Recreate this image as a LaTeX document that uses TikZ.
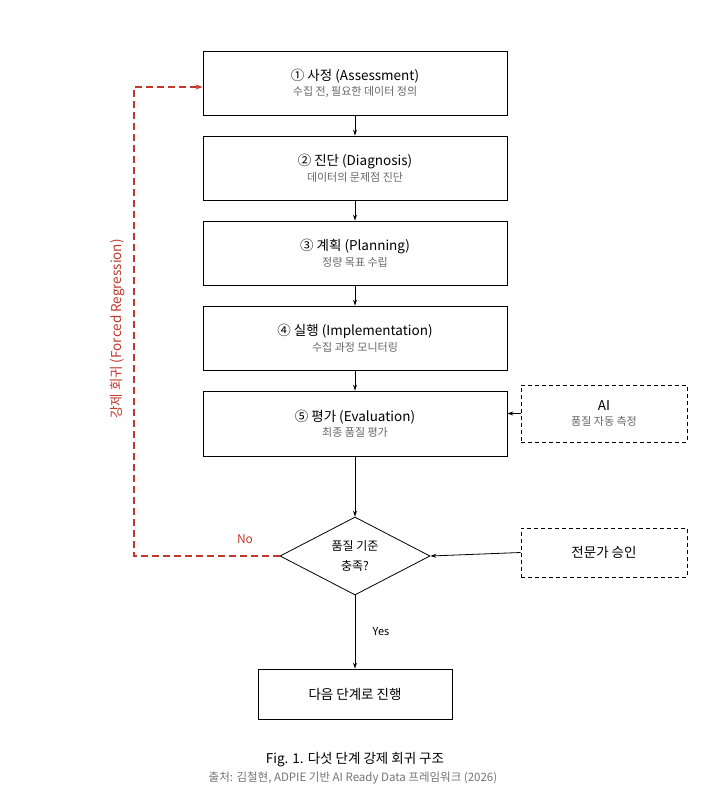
\documentclass[tikz,border=0pt]{standalone}
\usepackage{fontspec}
\setmainfont{Noto Sans CJK KR}
\usetikzlibrary{shapes.geometric,arrows.meta}
\definecolor{redc}{HTML}{C0392B}
\newcommand{\myttl}[1]{{\fontsize{13.5}{16}\selectfont #1}}
\newcommand{\mysub}[1]{{\fontsize{11}{13}\selectfont\color{black!60} #1}}
\begin{document}
\begin{tikzpicture}[x=1pt,y=-1pt,
 box/.style={draw,line width=0.8pt,minimum width=304pt,minimum height=64pt,align=center},
 dbox/.style={draw,line width=0.8pt,dash pattern=on 4pt off 3pt,minimum width=166pt,align=center},
 arr/.style={-{Stealth[length=6pt,width=4pt]},line width=0.8pt},
 rarr/.style={-{Stealth[length=7pt,width=5pt]},redc,line width=1.4pt,dash pattern=on 7pt off 4pt}]
\useasboundingbox (0,0) rectangle (710,799);
\node[box] (b1) at (355,83) {\myttl{① 사정 (Assessment)}\\[3pt]\mysub{수집 전, 필요한 데이터 정의}};
\node[box] (b2) at (355,168) {\myttl{② 진단 (Diagnosis)}\\[3pt]\mysub{데이터의 문제점 진단}};
\node[box] (b3) at (355,253) {\myttl{③ 계획 (Planning)}\\[3pt]\mysub{정량 목표 수립}};
\node[box] (b4) at (355,338) {\myttl{④ 실행 (Implementation)}\\[3pt]\mysub{수집 과정 모니터링}};
\node[box,minimum height=65pt] (b5) at (355,423.5) {\myttl{⑤ 평가 (Evaluation)}\\[3pt]\mysub{최종 품질 평가}};
\node[diamond,draw,line width=0.8pt,minimum width=150pt,minimum height=78pt,inner sep=0pt,align=center,font=\fontsize{12}{20}\selectfont] (d) at (355,556) {품질 기준\\충족?};
\node[draw,line width=0.8pt,minimum width=194pt,minimum height=50pt,font=\fontsize{13.5}{16}\selectfont] (nx) at (355,694) {다음 단계로 진행};
\node[dbox,minimum height=57pt] (ai) at (604,413.5) {\myttl{AI}\\[3pt]\mysub{품질 자동 측정}};
\node[dbox,minimum height=49pt,font=\fontsize{13.5}{16}\selectfont] (ex) at (604,552.5) {전문가 승인};
\draw[arr] (b1) -- (b2);
\draw[arr] (b2) -- (b3);
\draw[arr] (b3) -- (b4);
\draw[arr] (b4) -- (b5);
\draw[arr] (b5) -- (d);
\draw[arr] (d) -- node[right=14pt,font=\fontsize{11}{13}\selectfont]{Yes} (nx);
\draw[arr] (ai.west) -- (b5.east|-ai.west);
\draw[arr] (ex.west) -- (d.east);
\coordinate (c1) at (134,556);
\coordinate (c2) at (134,87);
\draw[rarr] (d.west) -- (c1) -- (c2) -- (b1.west|-c2);
\node[redc,font=\fontsize{12}{14}\selectfont] (no) at (245,539) {No};
\node[redc,rotate=90,font=\fontsize{13.5}{16}\selectfont] (lab) at (118,329) {강제 회귀 (Forced Regression)};
\node[font=\fontsize{13.5}{16}\selectfont] (cap) at (355,760) {Fig. 1. 다섯 단계 강제 회귀 구조};
\node[text=black!55,font=\fontsize{11.5}{13}\selectfont] (src) at (353,778) {출처: 김철현, ADPIE 기반 AI Ready Data 프레임워크 (2026)};
\end{tikzpicture}
\end{document}
